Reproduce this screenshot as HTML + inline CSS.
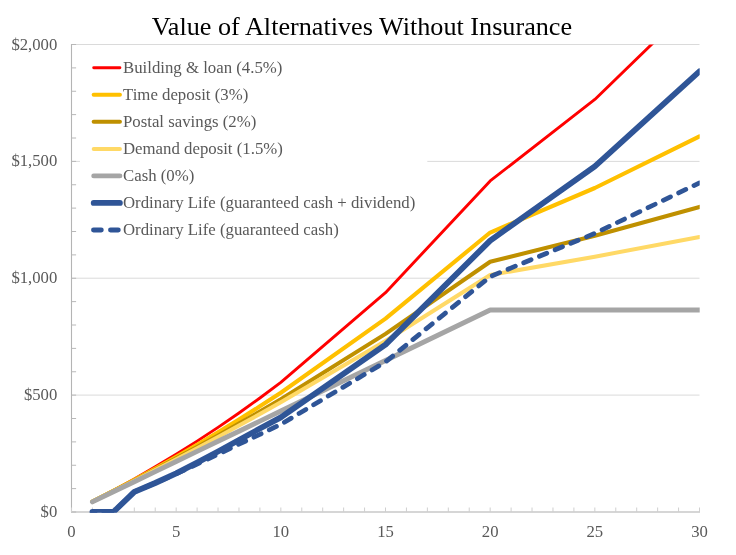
<!DOCTYPE html>
<html><head><meta charset="utf-8"><title>Value of Alternatives Without Insurance</title>
<style>
html,body{margin:0;padding:0;background:#fff;}
body{width:736px;height:555px;overflow:hidden;}
svg{display:block;}
text{font-family:"Liberation Serif",serif;}
.ax{font-size:16.7px;fill:#595959;}
.lg{font-size:16.8px;fill:#595959;}
.title{font-size:26.2px;fill:#000;}
</style></head><body>
<svg width="736" height="555" viewBox="0 0 736 555">
<rect width="736" height="555" fill="#fff"/>
<defs><clipPath id="pc"><rect x="71" y="44.5" width="628.7" height="468.2"/></clipPath></defs>

<line x1="71.5" x2="699.5" y1="395.1" y2="395.1" stroke="#dadada" stroke-width="1"/>
<line x1="71.5" x2="699.5" y1="278.2" y2="278.2" stroke="#dadada" stroke-width="1"/>
<line x1="71.5" x2="699.5" y1="161.4" y2="161.4" stroke="#dadada" stroke-width="1"/>
<line x1="71.5" x2="699.5" y1="44.5" y2="44.5" stroke="#dadada" stroke-width="1"/>
<rect x="80" y="52" width="347.3" height="195" fill="#fff"/>
<line x1="71.5" x2="71.5" y1="44.0" y2="512.5" stroke="#b4b4b4" stroke-width="1.1"/>
<line x1="71.0" x2="700.0" y1="512.0" y2="512.0" stroke="#c8c8c8" stroke-width="1.3"/>
<line x1="71.5" x2="76.1" y1="512.00" y2="512.00" stroke="#b8b8b8" stroke-width="1"/>
<line x1="71.5" x2="76.1" y1="488.62" y2="488.62" stroke="#b8b8b8" stroke-width="1"/>
<line x1="71.5" x2="76.1" y1="465.25" y2="465.25" stroke="#b8b8b8" stroke-width="1"/>
<line x1="71.5" x2="76.1" y1="441.88" y2="441.88" stroke="#b8b8b8" stroke-width="1"/>
<line x1="71.5" x2="76.1" y1="418.50" y2="418.50" stroke="#b8b8b8" stroke-width="1"/>
<line x1="71.5" x2="76.1" y1="395.12" y2="395.12" stroke="#b8b8b8" stroke-width="1"/>
<line x1="71.5" x2="76.1" y1="371.75" y2="371.75" stroke="#b8b8b8" stroke-width="1"/>
<line x1="71.5" x2="76.1" y1="348.38" y2="348.38" stroke="#b8b8b8" stroke-width="1"/>
<line x1="71.5" x2="76.1" y1="325.00" y2="325.00" stroke="#b8b8b8" stroke-width="1"/>
<line x1="71.5" x2="76.1" y1="301.62" y2="301.62" stroke="#b8b8b8" stroke-width="1"/>
<line x1="71.5" x2="76.1" y1="278.25" y2="278.25" stroke="#b8b8b8" stroke-width="1"/>
<line x1="71.5" x2="76.1" y1="254.88" y2="254.88" stroke="#b8b8b8" stroke-width="1"/>
<line x1="71.5" x2="76.1" y1="231.50" y2="231.50" stroke="#b8b8b8" stroke-width="1"/>
<line x1="71.5" x2="76.1" y1="208.12" y2="208.12" stroke="#b8b8b8" stroke-width="1"/>
<line x1="71.5" x2="76.1" y1="184.75" y2="184.75" stroke="#b8b8b8" stroke-width="1"/>
<line x1="71.5" x2="76.1" y1="161.38" y2="161.38" stroke="#b8b8b8" stroke-width="1"/>
<line x1="71.5" x2="76.1" y1="138.00" y2="138.00" stroke="#b8b8b8" stroke-width="1"/>
<line x1="71.5" x2="76.1" y1="114.62" y2="114.62" stroke="#b8b8b8" stroke-width="1"/>
<line x1="71.5" x2="76.1" y1="91.25" y2="91.25" stroke="#b8b8b8" stroke-width="1"/>
<line x1="71.5" x2="76.1" y1="67.88" y2="67.88" stroke="#b8b8b8" stroke-width="1"/>
<line x1="71.5" x2="76.1" y1="44.50" y2="44.50" stroke="#b8b8b8" stroke-width="1"/>
<line x1="71.50" x2="71.50" y1="507.5" y2="512.0" stroke="#cfcfcf" stroke-width="1"/>
<line x1="92.43" x2="92.43" y1="507.5" y2="512.0" stroke="#cfcfcf" stroke-width="1"/>
<line x1="113.37" x2="113.37" y1="507.5" y2="512.0" stroke="#cfcfcf" stroke-width="1"/>
<line x1="134.30" x2="134.30" y1="507.5" y2="512.0" stroke="#cfcfcf" stroke-width="1"/>
<line x1="155.23" x2="155.23" y1="507.5" y2="512.0" stroke="#cfcfcf" stroke-width="1"/>
<line x1="176.17" x2="176.17" y1="507.5" y2="512.0" stroke="#cfcfcf" stroke-width="1"/>
<line x1="197.10" x2="197.10" y1="507.5" y2="512.0" stroke="#cfcfcf" stroke-width="1"/>
<line x1="218.03" x2="218.03" y1="507.5" y2="512.0" stroke="#cfcfcf" stroke-width="1"/>
<line x1="238.97" x2="238.97" y1="507.5" y2="512.0" stroke="#cfcfcf" stroke-width="1"/>
<line x1="259.90" x2="259.90" y1="507.5" y2="512.0" stroke="#cfcfcf" stroke-width="1"/>
<line x1="280.83" x2="280.83" y1="507.5" y2="512.0" stroke="#cfcfcf" stroke-width="1"/>
<line x1="301.77" x2="301.77" y1="507.5" y2="512.0" stroke="#cfcfcf" stroke-width="1"/>
<line x1="322.70" x2="322.70" y1="507.5" y2="512.0" stroke="#cfcfcf" stroke-width="1"/>
<line x1="343.63" x2="343.63" y1="507.5" y2="512.0" stroke="#cfcfcf" stroke-width="1"/>
<line x1="364.57" x2="364.57" y1="507.5" y2="512.0" stroke="#cfcfcf" stroke-width="1"/>
<line x1="385.50" x2="385.50" y1="507.5" y2="512.0" stroke="#cfcfcf" stroke-width="1"/>
<line x1="406.43" x2="406.43" y1="507.5" y2="512.0" stroke="#cfcfcf" stroke-width="1"/>
<line x1="427.37" x2="427.37" y1="507.5" y2="512.0" stroke="#cfcfcf" stroke-width="1"/>
<line x1="448.30" x2="448.30" y1="507.5" y2="512.0" stroke="#cfcfcf" stroke-width="1"/>
<line x1="469.23" x2="469.23" y1="507.5" y2="512.0" stroke="#cfcfcf" stroke-width="1"/>
<line x1="490.17" x2="490.17" y1="507.5" y2="512.0" stroke="#cfcfcf" stroke-width="1"/>
<line x1="511.10" x2="511.10" y1="507.5" y2="512.0" stroke="#cfcfcf" stroke-width="1"/>
<line x1="532.03" x2="532.03" y1="507.5" y2="512.0" stroke="#cfcfcf" stroke-width="1"/>
<line x1="552.97" x2="552.97" y1="507.5" y2="512.0" stroke="#cfcfcf" stroke-width="1"/>
<line x1="573.90" x2="573.90" y1="507.5" y2="512.0" stroke="#cfcfcf" stroke-width="1"/>
<line x1="594.83" x2="594.83" y1="507.5" y2="512.0" stroke="#cfcfcf" stroke-width="1"/>
<line x1="615.77" x2="615.77" y1="507.5" y2="512.0" stroke="#cfcfcf" stroke-width="1"/>
<line x1="636.70" x2="636.70" y1="507.5" y2="512.0" stroke="#cfcfcf" stroke-width="1"/>
<line x1="657.63" x2="657.63" y1="507.5" y2="512.0" stroke="#cfcfcf" stroke-width="1"/>
<line x1="678.57" x2="678.57" y1="507.5" y2="512.0" stroke="#cfcfcf" stroke-width="1"/>
<line x1="699.50" x2="699.50" y1="507.5" y2="512.0" stroke="#cfcfcf" stroke-width="1"/>
<g clip-path="url(#pc)" fill="none" stroke-linejoin="round" stroke-linecap="round">
<path d="M92.43 501.45 L113.37 490.42 L134.30 478.90 L155.23 466.85 L176.17 454.27 L197.10 441.12 L218.03 427.38 L238.97 413.02 L259.90 398.01 L280.83 382.33 L385.50 292.68 L490.17 180.96 L594.83 99.46 L699.50 -2.10" stroke="#ff0000" stroke-width="2.9"/>
<path d="M92.43 501.60 L113.37 490.89 L134.30 479.85 L155.23 468.49 L176.17 456.78 L197.10 444.72 L218.03 432.30 L238.97 419.51 L259.90 406.34 L280.83 392.76 L385.50 318.55 L490.17 232.52 L594.83 188.01 L699.50 136.41" stroke="#ffc000" stroke-width="4.1"/>
<path d="M92.43 501.70 L113.37 491.19 L134.30 480.48 L155.23 469.55 L176.17 458.40 L197.10 447.03 L218.03 435.43 L238.97 423.60 L259.90 411.53 L280.83 399.22 L385.50 333.88 L490.17 261.74 L594.83 235.69 L699.50 206.93" stroke="#bf9000" stroke-width="4.1"/>
<path d="M92.43 501.75 L113.37 491.35 L134.30 480.79 L155.23 470.07 L176.17 459.19 L197.10 448.15 L218.03 436.94 L238.97 425.57 L259.90 414.02 L280.83 402.30 L385.50 341.02 L490.17 274.99 L594.83 256.68 L699.50 236.95" stroke="#ffd966" stroke-width="4.0"/>
<path d="M92.43 501.90 L113.37 491.80 L134.30 481.71 L155.23 471.61 L176.17 461.51 L197.10 451.41 L218.03 441.31 L238.97 431.22 L259.90 421.12 L280.83 411.02 L385.50 360.53 L490.17 310.04 L594.83 310.04 L699.50 310.04" stroke="#a5a5a5" stroke-width="4.9"/>
<path d="M92.43 512.00 L113.37 512.00 L134.30 491.90 L155.23 483.01 L176.17 473.43 L197.10 462.68 L218.03 451.46 L238.97 440.00 L259.90 428.55 L280.83 417.33 L385.50 344.63 L490.17 240.62 L594.83 166.28 L699.50 71.38" stroke="#2f5597" stroke-width="5.8"/>
<path d="M92.43 512.00 L113.37 512.00 L134.30 491.90 L155.23 483.01 L176.17 473.90 L197.10 464.08 L218.03 454.26 L238.97 444.21 L259.90 434.39 L280.83 424.34 L385.50 361.93 L490.17 276.61 L594.83 233.37 L699.50 182.88" stroke="#2f5597" stroke-width="4.7" stroke-dasharray="8.0 9.0" stroke-dashoffset="5.5"/>
</g>
<line x1="93.7" x2="119.9" y1="67.7" y2="67.7" stroke="#ff0000" stroke-width="2.9" stroke-linecap="round"/>
<text class="lg" x="123" y="72.6">Building &amp; loan (4.5%)</text>
<line x1="93.7" x2="119.9" y1="94.8" y2="94.8" stroke="#ffc000" stroke-width="4.1" stroke-linecap="round"/>
<text class="lg" x="123" y="99.7">Time deposit (3%)</text>
<line x1="93.7" x2="119.9" y1="121.8" y2="121.8" stroke="#bf9000" stroke-width="4.1" stroke-linecap="round"/>
<text class="lg" x="123" y="126.7">Postal savings (2%)</text>
<line x1="93.7" x2="119.9" y1="148.9" y2="148.9" stroke="#ffd966" stroke-width="4.0" stroke-linecap="round"/>
<text class="lg" x="123" y="153.8">Demand deposit (1.5%)</text>
<line x1="93.7" x2="119.9" y1="175.9" y2="175.9" stroke="#a5a5a5" stroke-width="4.9" stroke-linecap="round"/>
<text class="lg" x="123" y="180.8">Cash (0%)</text>
<line x1="93.7" x2="119.9" y1="202.9" y2="202.9" stroke="#2f5597" stroke-width="5.8" stroke-linecap="round"/>
<text class="lg" x="123" y="207.8">Ordinary Life (guaranteed cash + dividend)</text>
<line x1="93.5" x2="119.5" y1="230.0" y2="230.0" stroke="#2f5597" stroke-width="4.9" stroke-linecap="round" stroke-dasharray="7.8 9.2"/>
<text class="lg" x="123" y="234.9">Ordinary Life (guaranteed cash)</text>
<text class="ax" text-anchor="end" x="57.3" y="517.0">$0</text>
<text class="ax" text-anchor="end" x="57.3" y="400.1">$500</text>
<text class="ax" text-anchor="end" x="57.3" y="283.2">$1,000</text>
<text class="ax" text-anchor="end" x="57.3" y="166.4">$1,500</text>
<text class="ax" text-anchor="end" x="57.3" y="49.5">$2,000</text>
<text class="ax" text-anchor="middle" x="71.5" y="536.6">0</text>
<text class="ax" text-anchor="middle" x="176.2" y="536.6">5</text>
<text class="ax" text-anchor="middle" x="280.8" y="536.6">10</text>
<text class="ax" text-anchor="middle" x="385.5" y="536.6">15</text>
<text class="ax" text-anchor="middle" x="490.2" y="536.6">20</text>
<text class="ax" text-anchor="middle" x="594.8" y="536.6">25</text>
<text class="ax" text-anchor="middle" x="699.5" y="536.6">30</text>
<text class="title" text-anchor="middle" x="362" y="34.9">Value of Alternatives Without Insurance</text>
</svg></body></html>
